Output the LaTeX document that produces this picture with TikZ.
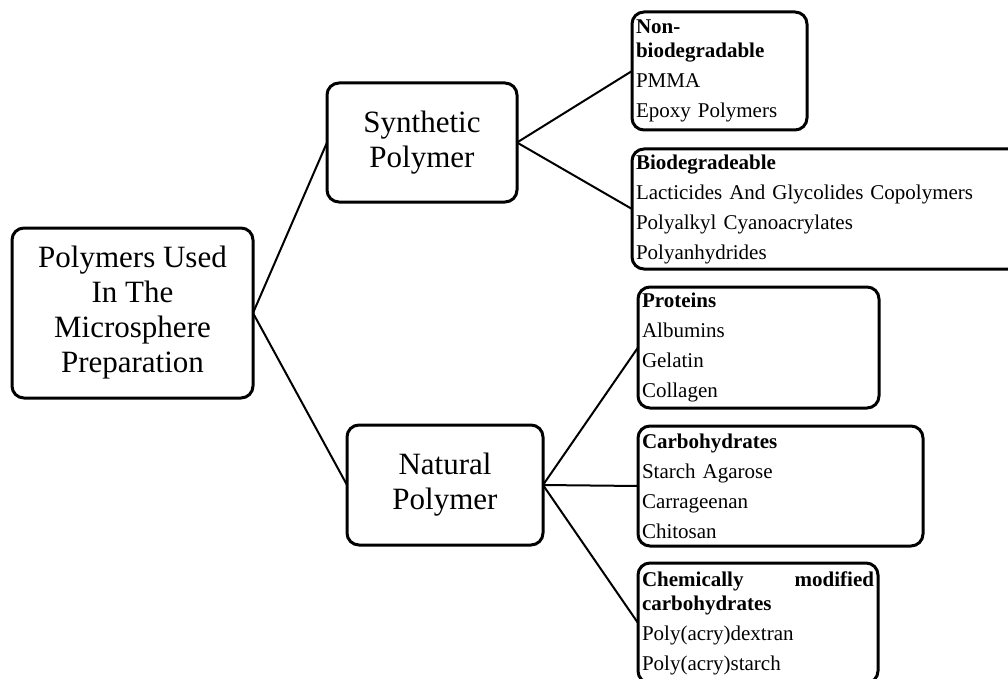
\documentclass[tikz,border=0pt]{standalone}
\usepackage{fontspec}
\setmainfont{Liberation Serif}
\usetikzlibrary{positioning}

\begin{document}
\begin{tikzpicture}[x=1pt,y=-1pt,
  bigbox/.style={draw,line width=3pt,rounded corners=12pt,align=center,outer sep=0pt,font=\fontsize{31}{35}\selectfont},
  leafbox/.style={draw,line width=3pt,rounded corners=12pt,anchor=north west,align=left,outer sep=0pt,inner xsep=4pt,inner ysep=2pt,font=\fontsize{21}{24}\selectfont},
  link/.style={line width=2pt}]
\clip (0,0) rectangle (1008,679);
% main boxes
\node[bigbox,minimum width=241pt,minimum height=170pt] (root) at (132.5,313) {Polymers Used\\In The\\Microsphere\\Preparation};
\node[bigbox,minimum width=190pt,minimum height=119pt] (synth) at (422,142.5) {Synthetic\\Polymer};
\node[bigbox,minimum width=196pt,minimum height=120pt] (natural) at (445,485) {Natural\\Polymer};
% synthetic group
\node[leafbox,text width=167pt,minimum height=118pt] (nonbio) at (632,12) {\textbf{Non-}\\\textbf{biodegradable}\\[6pt]PMMA\\[6pt]Epoxy Polymers};
\node[leafbox,text width=412pt,minimum height=120pt] (biodeg) at (632,149) {\textbf{Biodegradeable}\\[6pt]Lacticides And Glycolides Copolymers\\[6pt]Polyalkyl Cyanoacrylates\\[6pt]Polyanhydrides};
% natural group
\node[leafbox,text width=233pt,minimum height=121pt] (protein) at (638,287) {\textbf{Proteins}\\[6pt]Albumins\\[6pt]Gelatin\\[6pt]Collagen};
\node[leafbox,text width=277pt,minimum height=120pt] (carbo) at (638,426) {\textbf{Carbohydrates}\\[6pt]Starch Agarose\\[6pt]Carrageenan\\[6pt]Chitosan};
\node[leafbox,text width=232pt,minimum height=120pt] (chemmod) at (638,563) {\textbf{Chemically\hfill modified}\\\textbf{carbohydrates}\\[6pt]Poly(acry)dextran\\[6pt]Poly(acry)starch};
% links
\draw[link] (root.east) -- (synth.west);
\draw[link] (root.east) -- (natural.west);
\draw[link] (synth.east) -- (nonbio.west);
\draw[link] (synth.east) -- (biodeg.west);
\draw[link] (natural.east) -- (protein.west);
\draw[link] (natural.east) -- (carbo.west);
\draw[link] (natural.east) -- (chemmod.west);
\end{tikzpicture}
\end{document}
